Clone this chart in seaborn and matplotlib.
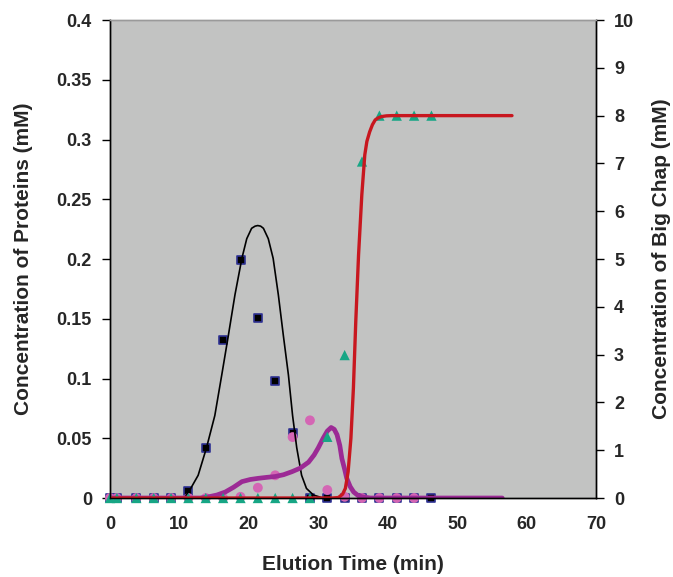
"""
Eluição das proteínas e do Big Chap: pontos medidos e curvas do modelo
"""
import seaborn as sns
import matplotlib.pyplot as plt
from matplotlib.ticker import MultipleLocator, FuncFormatter


# Tempos de coleta das frações (min)
sample_time = [0.0, 1.0, 3.8, 6.3, 8.8, 11.3, 13.8, 16.3, 18.8, 21.3,
               23.8, 26.3, 28.8, 31.3, 33.8, 36.3, 38.8, 41.3, 43.8, 46.3]

# Proteína 1 (quadrados) - mM
protein_1 = [0, 0, 0, 0, 0, 0.006, 0.042, 0.132, 0.199, 0.151,
             0.098, 0.054, 0, 0, 0, 0, 0, 0, 0, 0]

# Proteína 2 (círculos) - mM, até 43.8 min
protein_2_time = sample_time[:19]
protein_2 = [0, 0, 0, 0, 0, 0, 0, 0, 0.001, 0.0086,
             0.019, 0.051, 0.065, 0.0067, 0.001, 0, 0, 0, 0]

# Big Chap (triângulos) - mM, eixo da direita
big_chap = [0, 0, 0, 0, 0, 0, 0, 0, 0, 0,
            0, 0, 0, 1.28, 2.99, 7.04, 8.0, 8.0, 8.0, 8.0]

# Curvas do modelo
fit_1_time = [9.8, 10.8, 11.5, 12.7, 13.9, 15.1, 16.1, 17.05, 18.0, 19.0, 19.7,
              20.4, 20.9, 21.28, 21.7, 22.1, 22.8, 23.5, 24.25, 24.97, 25.7, 26.3,
              26.9, 27.6, 28.3, 29.3, 30.5, 31.5]
fit_1 = [0.0, 0.001, 0.0067, 0.019, 0.042, 0.069, 0.103, 0.136, 0.170, 0.2006, 0.217,
         0.2257, 0.2275, 0.228, 0.2275, 0.2257, 0.217, 0.2006, 0.170, 0.136, 0.103, 0.069,
         0.042, 0.019, 0.008, 0.0025, 0.0003, 0.0]

fit_2_time = [0.0, 13.0, 14.2, 15.4, 16.6, 17.8, 19.0, 20.2, 21.4, 22.6, 23.8, 25.0,
              26.2, 27.4, 28.6, 29.4, 30.0, 30.7, 31.3, 31.85, 32.3, 32.7, 33.1, 33.4,
              33.8, 34.1, 34.6, 35.1, 35.7, 36.3, 37.5, 56.5]
fit_2 = [0.0, 0.0, 0.001, 0.0025, 0.005, 0.009, 0.0137, 0.0155, 0.0165, 0.0173, 0.018, 0.0195,
         0.022, 0.025, 0.030, 0.036, 0.042, 0.050, 0.056, 0.059, 0.0575, 0.053, 0.044, 0.033,
         0.024, 0.0165, 0.0095, 0.005, 0.0022, 0.001, 0.0, 0.0]

fit_chap_time = [0.0, 32.0, 32.9, 33.5, 33.9, 34.3, 34.7, 35.06, 35.4, 35.8, 36.27,
                 36.7, 37.0, 37.4, 37.8, 38.2, 38.6, 39.1, 39.8, 40.6, 57.9]
fit_chap = [0.0, 0.0, 0.01, 0.08, 0.2, 0.55, 1.25, 2.3, 3.69, 5.08, 6.34,
            7.18, 7.46, 7.66, 7.81, 7.91, 7.95, 7.98, 7.995, 8.0, 8.0]


sns.set_style('white')
plt.rcParams['font.family'] = ['Liberation Sans', 'DejaVu Sans']
plt.rcParams['font.weight'] = 'bold'

fig = plt.figure(figsize=(6.73, 5.77), dpi=100)
ax = fig.add_axes([0.1634, 0.1369, 0.7222, 0.8284])
ax.set_facecolor('#c2c3c2')

# pontos medidos
sns.scatterplot(x=sample_time, y=protein_1, marker='s', s=40, color='black',
                edgecolor='#2e3192', linewidth=1.2, clip_on=False, ax=ax)
sns.scatterplot(x=protein_2_time, y=protein_2, marker='o', s=50, color='#d466b4',
                edgecolor='none', clip_on=False, ax=ax)

# curvas do modelo
sns.lineplot(x=fit_1_time, y=fit_1, color='black', linewidth=1.2, ax=ax)
sns.lineplot(x=fit_2_time, y=fit_2, color='#9c2a95', linewidth=3.4, ax=ax)

ax.set_xlim(0, 70)
ax.set_ylim(0, 0.4)
ax.xaxis.set_major_locator(MultipleLocator(10))
ax.yaxis.set_major_locator(MultipleLocator(0.05))
ax.yaxis.set_major_formatter(FuncFormatter(lambda v, p: f'{v:g}'))

ax2 = ax.twinx()
sns.scatterplot(x=sample_time, y=big_chap, marker='^', s=55, color='#17a685',
                edgecolor='none', clip_on=False, ax=ax2)
sns.lineplot(x=fit_chap_time, y=fit_chap, color='#c8171f', linewidth=2.4, ax=ax2)
ax2.set_ylim(0, 10)
ax2.yaxis.set_major_locator(MultipleLocator(1))

# eixos e textos
for a in (ax, ax2):
    a.spines['left'].set_color('black')
    a.spines['right'].set_color('black')
    a.spines['bottom'].set_color('black')
    a.spines['top'].set_color('#9a9a9a')
    for s in a.spines.values():
        s.set_linewidth(1.0)

ax.tick_params(axis='both', direction='out', length=6, width=1, color='black',
               labelsize=13, pad=7)
ax.tick_params(axis='x', length=5, pad=8)
ax2.tick_params(axis='y', direction='out', length=6, width=1, color='black',
                labelsize=13, pad=7)

ax.set_xlabel('Elution Time (min)', fontsize=15, fontweight='bold', labelpad=16)
ax.set_ylabel('Concentration of Proteins (mM)', fontsize=15, fontweight='bold', labelpad=17)
ax2.set_ylabel('Concentration of Big Chap (mM)', fontsize=15, fontweight='bold',
               rotation=90, labelpad=13)

for lab in ax.get_xticklabels() + ax.get_yticklabels() + ax2.get_yticklabels():
    lab.set_fontweight('bold')

plt.savefig('out.png', dpi=100)
plt.close()
